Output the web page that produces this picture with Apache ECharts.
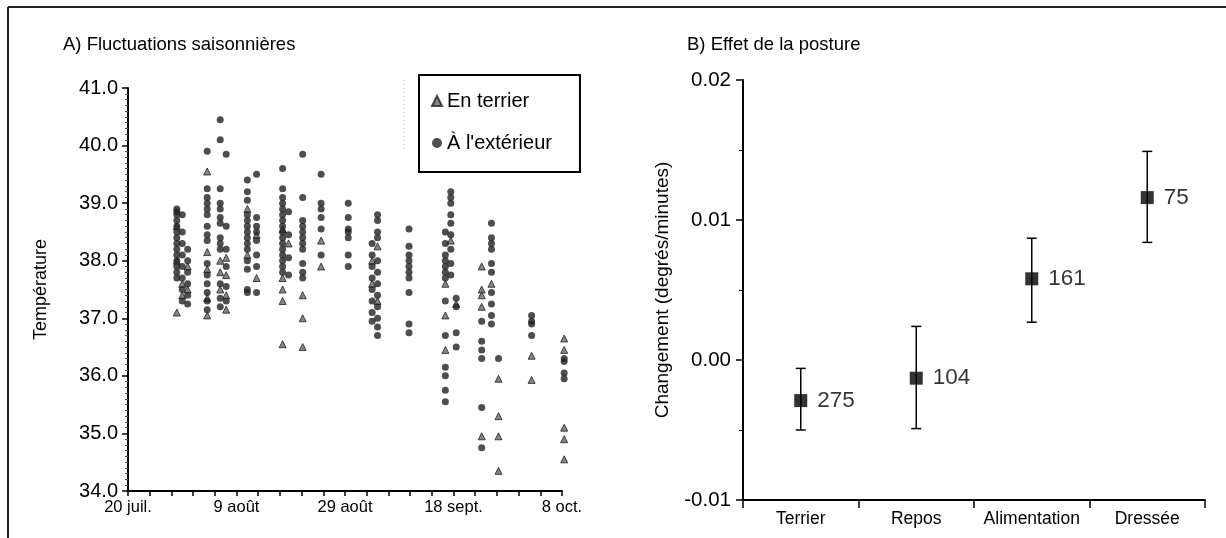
<!DOCTYPE html>
<html>
<head>
<meta charset="utf-8">
<script src="https://cdn.jsdelivr.net/npm/echarts@6/dist/echarts.min.js"></script>
<style>
  html, body { margin: 0; padding: 0; background: #fff; }
  #chart { width: 1226px; height: 538px; }
</style>
</head>
<body>
<div id="chart"></div>
<script>
// A) jours depuis le 20 juillet, températures
var xTickLabels = { 0: '20 juil.', 20: '9 août', 40: '29 août', 60: '18 sept.', 80: '8 oct.' };

var terrierCols = [
    [9, [37.1, 38.6, 38.0]],
    [10, [37.6, 37.4]],
    [11, [37.9, 37.5]],
    [14.6, [39.55, 38.15, 37.85, 37.35, 37.05]],
    [17, [38.0, 37.8, 37.5]],
    [18.1, [38.05, 37.75, 37.4, 37.15]],
    [22, [38.9, 38.1]],
    [23.7, [38.45, 37.7]],
    [28.5, [37.7, 37.5, 37.3, 36.55, 38.55]],
    [29.6, [38.3]],
    [32.2, [37.4, 37.0, 36.5]],
    [35.6, [38.35, 37.9]],
    [45, [37.6, 38.0]],
    [46, [38.25, 37.3]],
    [58.5, [37.6, 37.05, 36.45]],
    [59.5, [38.35]],
    [60.5, [37.25]],
    [65.2, [37.9, 37.5, 37.4, 37.2, 34.95]],
    [67, [37.6]],
    [68.3, [35.95, 35.3, 34.95, 34.35]],
    [74.4, [36.35, 35.93]],
    [80.4, [36.65, 36.45, 35.1, 34.9, 34.55]]
];

var exterieurCols = [
    [9, [38.9, 38.85, 38.8, 38.7, 38.6, 38.5, 38.4, 38.3, 38.2, 38.1, 38.0, 37.9, 37.8, 37.7]],
    [10, [38.8, 38.5, 38.3, 38.1, 37.9, 37.7, 37.5, 37.3]],
    [11, [38.2, 38.0, 37.8, 37.6, 37.4, 37.25]],
    [14.6, [39.9, 39.25, 39.1, 39.0, 38.9, 38.8, 38.6, 38.45, 38.35, 37.95, 37.75, 37.6, 37.45, 37.3, 37.15]],
    [17, [40.45, 40.1, 39.25, 39.0, 38.9, 38.75, 38.65, 38.4, 38.3, 38.2, 37.6, 37.35, 37.2]],
    [18.1, [39.85, 38.6, 38.2, 37.9, 37.55, 37.3]],
    [22, [39.4, 39.2, 39.05, 38.8, 38.7, 38.6, 38.5, 38.4, 38.3, 38.2, 38.0, 37.85, 37.5, 37.45]],
    [23.7, [39.5, 38.75, 38.6, 38.5, 38.35, 38.1, 37.9, 37.45]],
    [28.5, [39.6, 39.25, 39.1, 39.0, 38.9, 38.8, 38.7, 38.6, 38.5, 38.4, 38.3, 38.2, 38.1, 38.0, 37.9, 37.8]],
    [29.6, [38.85, 38.45, 38.05, 37.75]],
    [32.2, [39.85, 39.1, 38.7, 38.6, 38.5, 38.4, 38.3, 38.2, 37.95, 37.8, 37.7]],
    [35.6, [39.5, 39.0, 38.9, 38.75, 38.55, 38.1]],
    [40.6, [39.0, 38.75, 38.55, 38.5, 38.4, 38.1, 37.9]],
    [45, [38.3, 38.1, 37.9, 37.7, 37.5, 37.3, 37.1, 36.95]],
    [46, [38.8, 38.7, 38.5, 38.4, 38.0, 37.8, 37.6, 37.4, 37.2, 37.0, 36.85, 36.7]],
    [51.8, [38.55, 38.25, 38.1, 38.0, 37.9, 37.8, 37.7, 37.45, 36.9, 36.75]],
    [58.5, [38.5, 38.3, 38.1, 38.0, 37.9, 37.8, 37.7, 37.3, 36.7, 36.15, 36.0, 35.75, 35.55]],
    [59.5, [39.2, 39.1, 39.0, 38.8, 38.65, 38.45, 38.2, 37.95, 37.75]],
    [60.5, [37.35, 37.2, 36.75, 36.5]],
    [65.2, [36.95, 36.6, 36.45, 36.3, 35.45, 34.75]],
    [67, [38.65, 38.4, 38.3, 38.2, 37.95, 37.8, 37.45, 37.25, 37.05, 36.9]],
    [68.3, [36.3]],
    [74.4, [37.05, 36.95, 36.9, 36.7]],
    [80.4, [36.3, 36.25, 36.05, 35.95]]
];

// B) effet de la posture
var postures = ['Terrier', 'Repos', 'Alimentation', 'Dressée'];
var moyennes = [-0.0029, -0.0013, 0.0058, 0.0116];
var basses = [-0.0050, -0.0049, 0.0027, 0.0084];
var hautes = [-0.0006, 0.0024, 0.0087, 0.0149];
var effectifs = [275, 104, 161, 75];

var flatten = function (cols) {
    var pts = [];
    cols.forEach(function (c) {
        c[1].forEach(function (t) { pts.push([c[0], t]); });
    });
    return pts;
};

var font = '"Liberation Sans", Arial, sans-serif';
var ink = '#000';
var chartBox = document.getElementById('chart');
var myChart = echarts.init(chartBox);

var option = {
    animation: false,
    backgroundColor: '#fff',
    textStyle: { fontFamily: font, color: ink },
    title: [
        { text: 'A) Fluctuations saisonnières', left: 58, top: 30,
          textStyle: { fontSize: 18.5, fontWeight: 'normal', color: ink, fontFamily: font } },
        { text: 'B) Effet de la posture', left: 682, top: 30,
          textStyle: { fontSize: 18.5, fontWeight: 'normal', color: ink, fontFamily: font } }
    ],
    legend: {
        data: ['En terrier', "À l'extérieur"],
        orient: 'vertical',
        left: 419,
        top: 75,
        padding: [16, 28, 19, 12],
        itemGap: 22,
        itemWidth: 10,
        itemHeight: 10,
        borderColor: ink,
        borderWidth: 2,
        textStyle: { fontSize: 20, color: ink, fontFamily: font }
    },
    grid: [
        { left: 128, right: 664, top: 88, bottom: 47 },
        { left: 743, right: 21, top: 80, bottom: 38 }
    ],
    xAxis: [
        {
            gridIndex: 0,
            type: 'value',
            min: 0,
            max: 80,
            interval: 20,
            splitLine: { show: false },
            axisLine: { onZero: false, lineStyle: { color: ink, width: 2 } },
            axisTick: { show: true, length: 5, lineStyle: { color: ink, width: 1.5 } },
            minorTick: { show: true, splitNumber: 5, length: 5, lineStyle: { color: ink, width: 1.5 } },
            axisLabel: {
                fontSize: 16.5, color: ink, margin: 8,
                formatter: function (v) { return xTickLabels[v] || ''; }
            }
        },
        {
            gridIndex: 1,
            type: 'category',
            data: postures,
            boundaryGap: true,
            splitLine: { show: false },
            axisLine: { onZero: false, lineStyle: { color: ink, width: 2 } },
            axisTick: { show: true, interval: 0, length: 8, lineStyle: { color: ink, width: 1.5 } },
            axisLabel: { interval: 0, hideOverlap: false, fontSize: 17.5, color: ink, margin: 10 }
        }
    ],
    yAxis: [
        {
            gridIndex: 0,
            type: 'value',
            min: 34,
            max: 41,
            interval: 1,
            name: 'Température',
            nameLocation: 'middle',
            nameGap: 78,
            nameTextStyle: { fontSize: 18, color: ink },
            splitLine: { show: false },
            axisLine: { show: true, onZero: false, lineStyle: { color: ink, width: 2 } },
            axisTick: { show: true, length: 6, lineStyle: { color: ink, width: 1.5 } },
            minorTick: { show: true, splitNumber: 10, length: 3, lineStyle: { color: '#555' } },
            axisLabel: {
                fontSize: 20, color: ink, margin: 10,
                formatter: function (v) { return v.toFixed(1); }
            }
        },
        {
            gridIndex: 1,
            type: 'value',
            min: -0.01,
            max: 0.02,
            interval: 0.01,
            name: 'Changement (degrés/minutes)',
            nameLocation: 'middle',
            nameGap: 71,
            nameTextStyle: { fontSize: 19, color: ink },
            splitLine: { show: false },
            axisLine: { show: true, onZero: false, lineStyle: { color: ink, width: 2 } },
            axisTick: { show: true, length: 7, lineStyle: { color: ink, width: 1.5 } },
            minorTick: { show: true, splitNumber: 2, length: 4, lineStyle: { color: ink } },
            axisLabel: {
                fontSize: 20.5, color: ink, margin: 12,
                formatter: function (v) { return v.toFixed(2); }
            }
        }
    ],
    series: [
        {
            name: 'En terrier',
            type: 'scatter',
            xAxisIndex: 0,
            yAxisIndex: 0,
            clip: false,
            symbol: 'triangle',
            symbolSize: 7,
            itemStyle: { color: '#666', borderColor: '#222', borderWidth: 1 },
            data: flatten(terrierCols)
        },
        {
            name: "À l'extérieur",
            type: 'scatter',
            xAxisIndex: 0,
            yAxisIndex: 0,
            clip: false,
            symbol: 'circle',
            symbolSize: 7,
            itemStyle: { color: '#222' },
            data: flatten(exterieurCols)
        },
        {
            type: 'custom',
            xAxisIndex: 1,
            yAxisIndex: 1,
            renderItem: function (params, api) {
                var top = api.coord([api.value(0), api.value(2)]);
                var bot = api.coord([api.value(0), api.value(1)]);
                var w = 5;
                var st = { stroke: ink, lineWidth: 1.5 };
                return {
                    type: 'group',
                    children: [
                        { type: 'line', shape: { x1: top[0], y1: top[1], x2: bot[0], y2: bot[1] }, style: st },
                        { type: 'line', shape: { x1: top[0] - w, y1: top[1], x2: top[0] + w, y2: top[1] }, style: st },
                        { type: 'line', shape: { x1: bot[0] - w, y1: bot[1], x2: bot[0] + w, y2: bot[1] }, style: st }
                    ]
                };
            },
            data: postures.map(function (p, i) { return [i, basses[i], hautes[i]]; })
        },
        {
            type: 'scatter',
            xAxisIndex: 1,
            yAxisIndex: 1,
            symbol: 'rect',
            symbolSize: 13,
            itemStyle: { color: ink },
            label: {
                show: true,
                position: 'right',
                distance: 10,
                fontSize: 22.5,
                color: ink,
                formatter: function (p) { return effectifs[p.dataIndex]; }
            },
            data: moyennes
        }
    ],
    graphic: [
        { type: 'line', shape: { x1: 8, y1: 7, x2: 1226, y2: 7 }, style: { stroke: '#222', lineWidth: 2 } },
        { type: 'line', shape: { x1: 8, y1: 7, x2: 8, y2: 538 }, style: { stroke: '#222', lineWidth: 2 } },
        { type: 'line', shape: { x1: 404, y1: 80, x2: 404, y2: 152 }, style: { stroke: '#aaa', lineWidth: 1, lineDash: [1, 3] } }
    ]
};
myChart.setOption(option);
</script>
</body>
</html>
